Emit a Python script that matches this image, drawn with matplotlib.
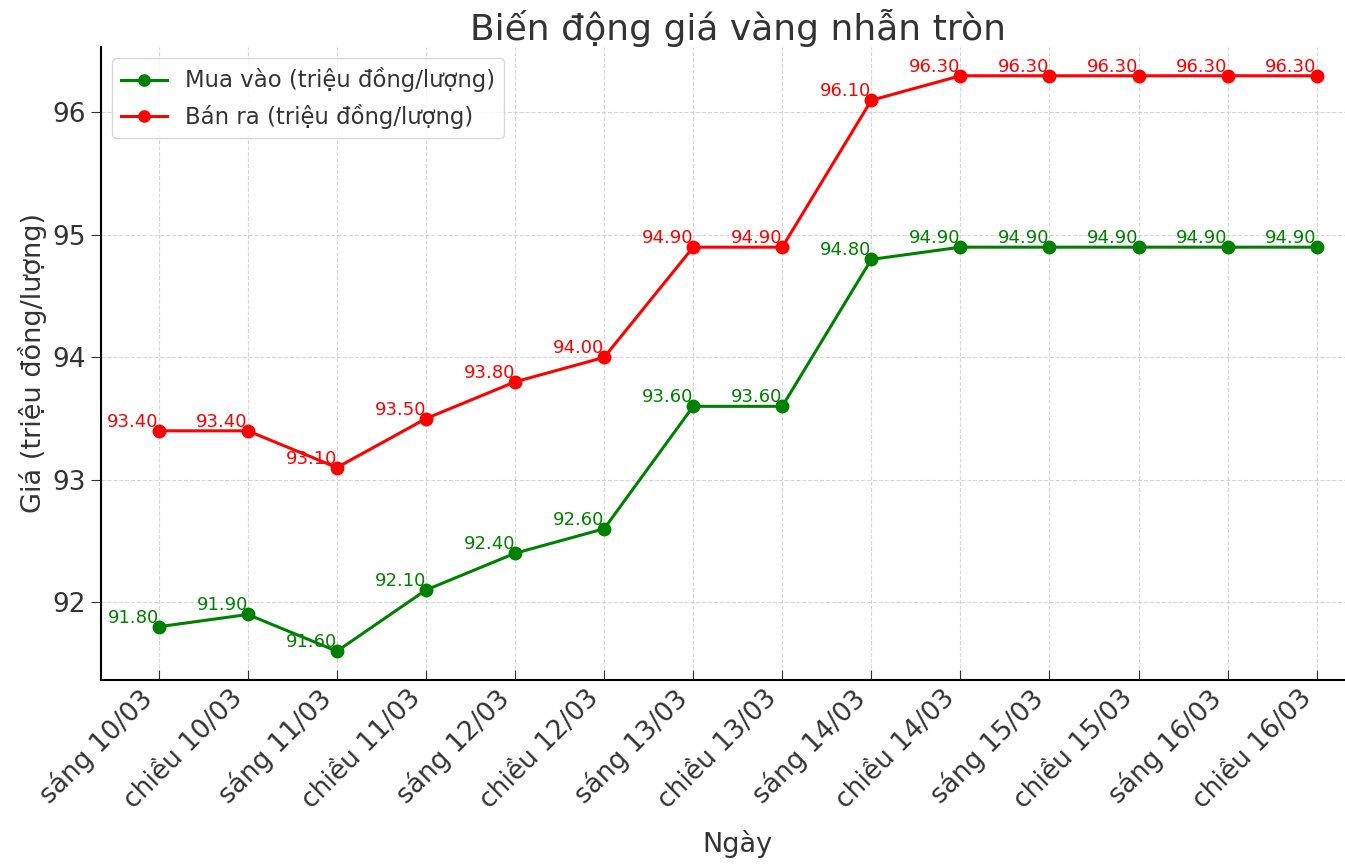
import matplotlib.pyplot as plt

days = ["sáng 10/03", "chiều 10/03", "sáng 11/03", "chiều 11/03", "sáng 12/03",
        "chiều 12/03", "sáng 13/03", "chiều 13/03", "sáng 14/03", "chiều 14/03",
        "sáng 15/03", "chiều 15/03", "sáng 16/03", "chiều 16/03"]
buy = [91.8, 91.9, 91.6, 92.1, 92.4, 92.6, 93.6, 93.6, 94.8, 94.9, 94.9, 94.9, 94.9, 94.9]
sell = [93.4, 93.4, 93.1, 93.5, 93.8, 94.0, 94.9, 94.9, 96.1, 96.3, 96.3, 96.3, 96.3, 96.3]

plt.rcParams['text.color'] = '#333333'
plt.rcParams['axes.labelcolor'] = '#333333'
plt.rcParams['xtick.color'] = '#333333'
plt.rcParams['ytick.color'] = '#333333'

fig = plt.figure(figsize=(13.45, 8.67), dpi=100)
# axes run a little past the right edge, as in the cropped original
ax = fig.add_axes([0.075, 0.2157, 0.947, 0.7301])

x = list(range(len(days)))
ax.plot(x, buy, 'o-', color='green', lw=2.2, ms=9, label='Mua vào (triệu đồng/lượng)')
ax.plot(x, sell, 'o-', color='red', lw=2.2, ms=9, label='Bán ra (triệu đồng/lượng)')

for i in x:
    ax.text(i, buy[i], f"{buy[i]:.2f}", color='green', fontsize=13, ha='right', va='bottom')
    ax.text(i, sell[i], f"{sell[i]:.2f}", color='red', fontsize=13, ha='right', va='bottom')

ax.set_xticks(x)
ax.set_xticklabels(days, rotation=45, ha='right')
ax.tick_params(axis='both', labelsize=19)
ax.tick_params(axis='x', direction='in', length=7)
ax.tick_params(axis='y', length=7)
ax.set_xlim(-0.65, 13.65)
ax.set_yticks([92, 93, 94, 95, 96])
ax.set_xlabel('Ngày', fontsize=19.5, labelpad=12)
ax.set_ylabel('Giá (triệu đồng/lượng)', fontsize=19.5)
ax.set_title('Biến động giá vàng nhẫn tròn', fontsize=26, pad=3)
ax.grid(True, linestyle='--', color='#cccccc', alpha=0.8)
ax.spines['top'].set_visible(False)
ax.spines['right'].set_visible(False)
ax.spines['left'].set_linewidth(1.5)
ax.spines['bottom'].set_linewidth(1.5)
ax.legend(loc='upper left', fontsize=16.4, markerscale=0.9)

fig.savefig('out.png', dpi=100)
